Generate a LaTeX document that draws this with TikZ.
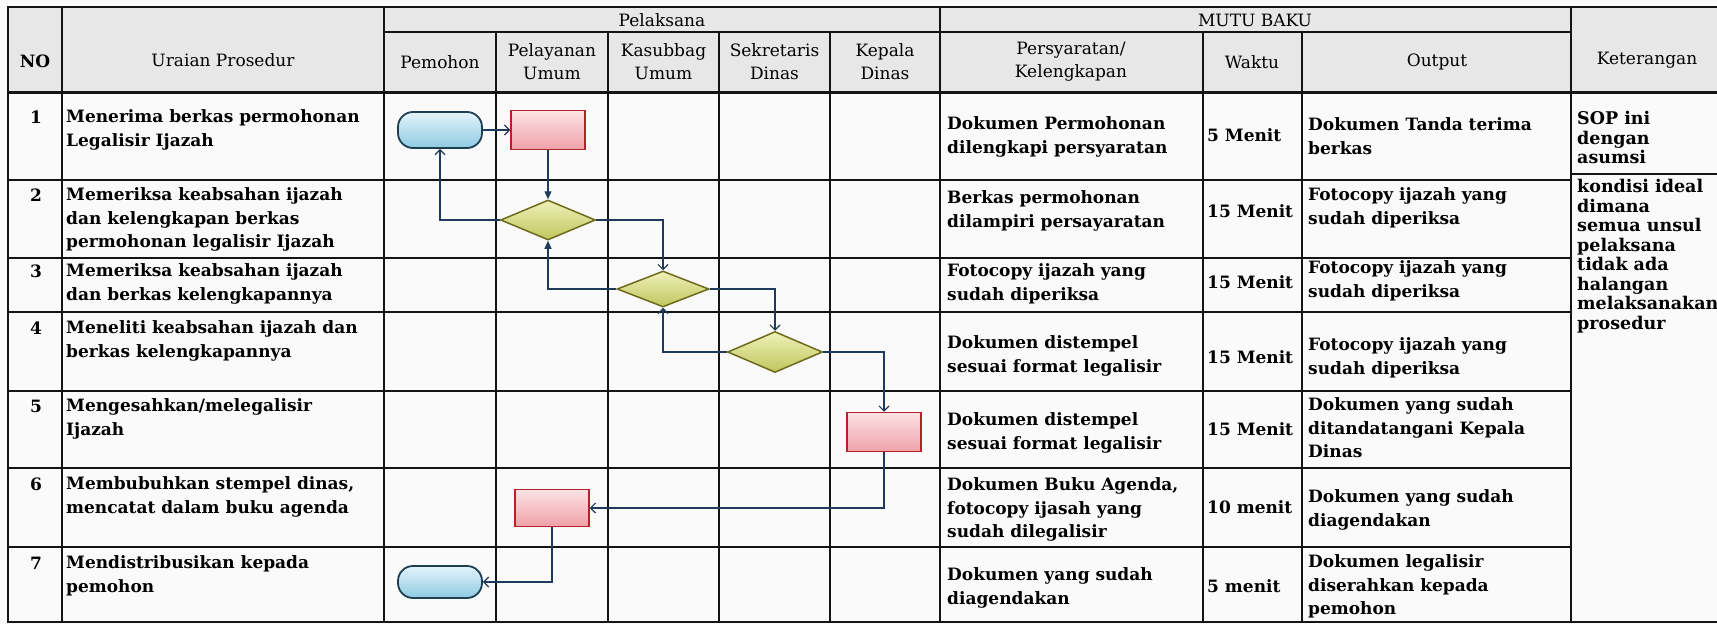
\documentclass[tikz,border=0pt]{standalone}
\usepackage{fontspec}
\setmainfont{DejaVu Serif}
\usetikzlibrary{arrows.meta,shapes.geometric}
\definecolor{hdr}{HTML}{E7E7E7}
\definecolor{bg}{HTML}{FBFAFB}
\definecolor{grid}{HTML}{141414}
\definecolor{conn}{HTML}{1F3B5C}
\definecolor{ovtop}{HTML}{E4F4FB}
\definecolor{ovbot}{HTML}{8ECAE2}
\definecolor{ovline}{HTML}{1E3E52}
\definecolor{rdtop}{HTML}{FCE3E5}
\definecolor{rdbot}{HTML}{EFA1A9}
\definecolor{rdline}{HTML}{B5222A}
\definecolor{dmtop}{HTML}{EEF1B8}
\definecolor{dmbot}{HTML}{C0C65E}
\definecolor{dmline}{HTML}{6E6A1C}
\newcommand\bodyfont{\fontsize{17}{23.5}\selectfont\bfseries}
\newcommand\ketfont{\fontsize{17.5}{19.5}\selectfont\bfseries}
\newcommand\hdrfont{\fontsize{17}{23}\selectfont}
\begin{document}
\begin{tikzpicture}[x=1pt,y=-1pt,
  gridline/.style={draw=grid,line width=1.9pt,line cap=rect},
  cellt/.style={anchor=north west,inner sep=0pt,align=left,font=\bodyfont,text=black},
  ketcell/.style={anchor=north west,inner sep=0pt,align=left,font=\ketfont,text=black},
  numcell/.style={anchor=center,inner sep=0pt,font=\bodyfont,text=black},
  hcell/.style={anchor=center,inner sep=0pt,align=center,font=\hdrfont,text=black},
  oval/.style={draw=ovline,line width=1.8pt,rounded corners=15pt,top color=ovtop,bottom color=ovbot,minimum width=84pt,minimum height=36pt,inner sep=0pt},
  redbox/.style={draw=rdline,line width=1.5pt,top color=rdtop,bottom color=rdbot,minimum width=74pt,minimum height=39pt,inner sep=0pt},
  dia/.style={diamond,aspect=2.4,draw=dmline,line width=1.5pt,top color=dmtop,bottom color=dmbot,minimum width=95pt,minimum height=40pt,inner sep=0pt},
  conn/.style={draw=conn,line width=1.2pt},
  openarr/.style={conn,-{Straight Barb[length=5pt,width=10pt]}},
  fillarr/.style={conn,-{Triangle[length=8pt,width=7pt]}}
]
\useasboundingbox (0,0) rectangle (1717,624);
\fill[bg] (0,0) rectangle (1717,624);
\fill[hdr] (8,7) rectangle (1717,92);

% grid
\foreach \x in {8,62,384,940,1571,1723} \draw[gridline] (\x,7) -- (\x,622);
\foreach \x in {496,608,719,830,1203,1302} \draw[gridline] (\x,32) -- (\x,622);
\draw[gridline] (8,7) -- (1723,7);
\draw[gridline] (384,32) -- (1571,32);
\draw[gridline,line width=3pt] (8,92) -- (1723,92);
\foreach \y in {180,258,312,391,468,547} \draw[gridline] (8,\y) -- (1571,\y);
\draw[gridline] (1571,174) -- (1723,174);
\draw[gridline] (8,622) -- (1723,622);

% header
\node[hcell,font=\hdrfont\bfseries] (hno) at (35,61) {NO};
\node[hcell] (hur) at (223,60) {Uraian Prosedur};
\node[hcell] (hpel) at (662,20) {Pelaksana};
\node[hcell] (hmut) at (1255,20) {MUTU BAKU};
\node[hcell] (hpem) at (440,62) {Pemohon};
\node[hcell] (hpu) at (552,62) {Pelayanan\\Umum};
\node[hcell] (hku) at (663.5,62) {Kasubbag\\Umum};
\node[hcell] (hsd) at (774.5,62) {Sekretaris\\Dinas};
\node[hcell] (hkd) at (885,62) {Kepala\\Dinas};
\node[hcell] (hper) at (1071,62) {Persyaratan/\\Kelengkapan};
\node[hcell] (hwak) at (1252,62) {Waktu};
\node[hcell] (hout) at (1437,62) {Output};
\node[hcell] (hket) at (1647,60) {Keterangan};

% numbers
\node[numcell] (n1) at (36,117) {1};
\node[numcell] (n2) at (36,195) {2};
\node[numcell] (n3) at (36,271) {3};
\node[numcell] (n4) at (36,328) {4};
\node[numcell] (n5) at (36,406) {5};
\node[numcell] (n6) at (36,484) {6};
\node[numcell] (n7) at (36,563) {7};

% uraian
\node[cellt] (u1) at (66,117-11) {\strut Menerima berkas permohonan\\Legalisir Ijazah};
\node[cellt] (u2) at (66,195-11) {\strut Memeriksa keabsahan ijazah\\dan kelengkapan berkas\\permohonan legalisir Ijazah};
\node[cellt] (u3) at (66,271-11) {\strut Memeriksa keabsahan ijazah\\dan berkas kelengkapannya};
\node[cellt] (u4) at (66,328-11) {\strut Meneliti keabsahan ijazah dan\\berkas kelengkapannya};
\node[cellt] (u5) at (66,406-11) {\strut Mengesahkan/melegalisir\\Ijazah};
\node[cellt] (u6) at (66,484-11) {\strut Membubuhkan stempel dinas,\\mencatat dalam buku agenda};
\node[cellt] (u7) at (66,563-11) {\strut Mendistribusikan kepada\\pemohon};

% persyaratan
\node[cellt] (p1) at (947,124-11) {\strut Dokumen Permohonan\\dilengkapi persyaratan};
\node[cellt] (p2) at (947,198-11) {\strut Berkas permohonan\\dilampiri persayaratan};
\node[cellt] (p3) at (947,271-11) {\strut Fotocopy ijazah yang\\sudah diperiksa};
\node[cellt] (p4) at (947,343-11) {\strut Dokumen distempel\\sesuai format legalisir};
\node[cellt] (p5) at (947,420-11) {\strut Dokumen distempel\\sesuai format legalisir};
\node[cellt] (p6) at (947,485-11) {\strut Dokumen Buku Agenda,\\fotocopy ijasah yang\\sudah dilegalisir};
\node[cellt] (p7) at (947,575-11) {\strut Dokumen yang sudah\\diagendakan};

% waktu
\node[cellt] (w1) at (1207,136-11) {\strut 5 Menit};
\node[cellt] (w2) at (1207,212-11) {\strut 15 Menit};
\node[cellt] (w3) at (1207,283-11) {\strut 15 Menit};
\node[cellt] (w4) at (1207,358-11) {\strut 15 Menit};
\node[cellt] (w5) at (1207,430-11) {\strut 15 Menit};
\node[cellt] (w6) at (1207,508-11) {\strut 10 menit};
\node[cellt] (w7) at (1207,587-11) {\strut 5 menit};

% output
\node[cellt] (o1) at (1308,125-11) {\strut Dokumen Tanda terima\\berkas};
\node[cellt] (o2) at (1308,195-11) {\strut Fotocopy ijazah yang\\sudah diperiksa};
\node[cellt] (o3) at (1308,268-11) {\strut Fotocopy ijazah yang\\sudah diperiksa};
\node[cellt] (o4) at (1308,345-11) {\strut Fotocopy ijazah yang\\sudah diperiksa};
\node[cellt] (o5) at (1308,405-11) {\strut Dokumen yang sudah\\ditandatangani Kepala\\Dinas};
\node[cellt] (o6) at (1308,497-11) {\strut Dokumen yang sudah\\diagendakan};
\node[cellt] (o7) at (1308,562-11) {\strut Dokumen legalisir\\diserahkan kepada\\pemohon};

% keterangan
\node[ketcell] (k1) at (1577,119-8) {\strut SOP ini\\dengan\\asumsi};
\node[ketcell] (k2) at (1577,187-8) {\strut kondisi ideal\\dimana\\semua unsul\\pelaksana\\tidak ada\\halangan\\melaksanakan\\prosedur};

% flowchart shapes
\node[oval] (ov1) at (440,130) {};
\node[redbox] (rb1) at (548,130) {};
\node[dia] (d1) at (548,220) {};
\node[dia,minimum width=92pt,minimum height=36pt] (d2) at (663,289) {};
\node[dia,minimum height=41pt] (d3) at (775,352) {};
\node[redbox] (rb5) at (884,432) {};
\node[redbox,minimum height=37pt] (rb6) at (552,508) {};
\node[oval,minimum height=32pt] (ov7) at (440,582) {};

% connectors
\draw[openarr] (ov1.east) -- (rb1.west);
\draw[fillarr] (rb1.south) -- (d1.north);
\draw[openarr] (d1.west) -| (ov1.south);
\draw[openarr] (d1.east) -| (d2.north);
\draw[fillarr] (d2.west) -| (d1.south);
\draw[openarr] (d2.east) -| (d3.north);
\draw[openarr] (d3.west) -| (d2.south);
\draw[openarr] (d3.east) -| (rb5.north);
\draw[openarr] (rb5.south) |- (rb6.east);
\draw[openarr] (rb6.south) |- (ov7.east);
\end{tikzpicture}
\end{document}
